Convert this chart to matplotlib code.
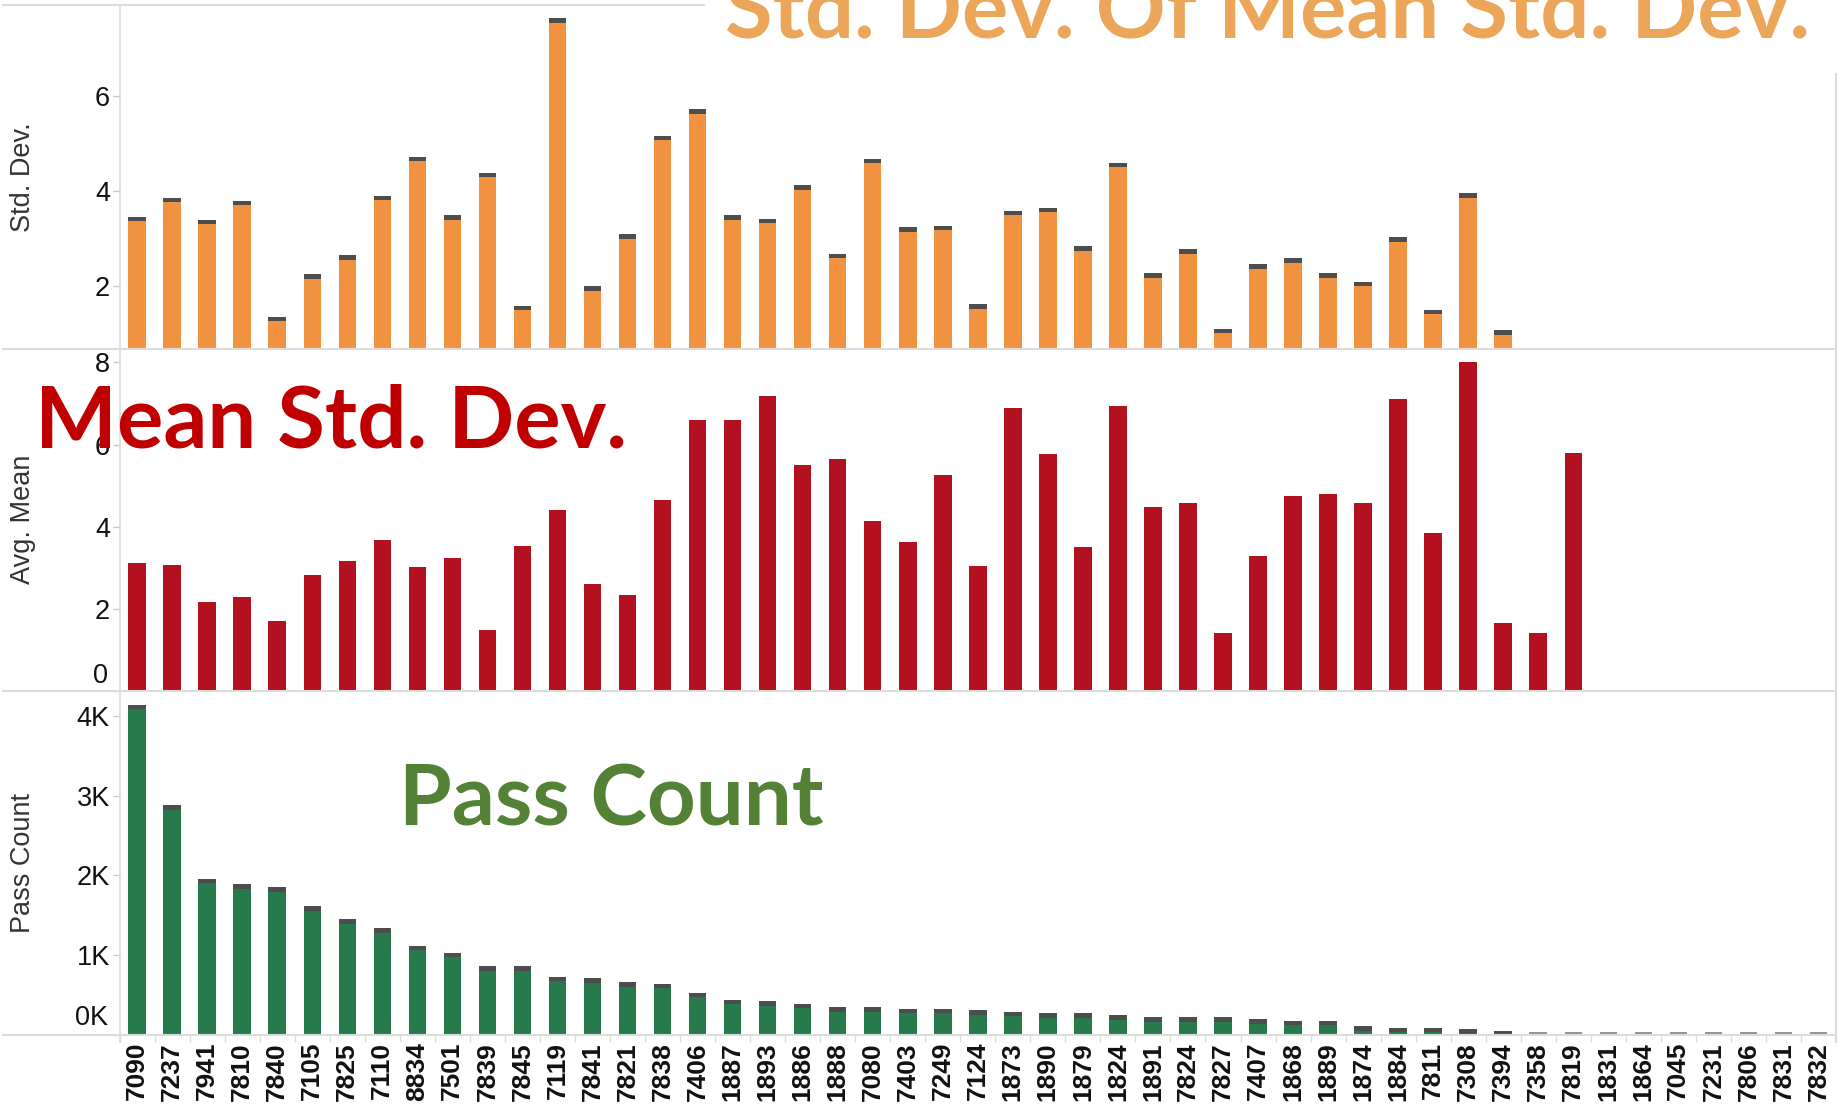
import numpy as np
import matplotlib
matplotlib.use("Agg")
import matplotlib.pyplot as plt
from matplotlib.lines import Line2D
from matplotlib.patches import Rectangle
import matplotlib.transforms as mtransforms

plt.rcParams['font.family'] = ['Liberation Sans', 'DejaVu Sans']

# ---------------- data ----------------
categories = ['7090', '7237', '7941', '7810', '7840', '7105', '7825', '7110', '8834', '7501',
              '7839', '7845', '7119', '7841', '7821', '7838', '7406', '1887', '1893', '1886',
              '1888', '7080', '7403', '7249', '7124', '1873', '1890', '1879', '1824', '1891',
              '7824', '7827', '7407', '1868', '1889', '1874', '1884', '7811', '7308', '7394',
              '7358', '7819', '1831', '1864', '7045', '7231', '7806', '7831', '7832']

nan = np.nan
std_dev = [3.46, 3.86, 3.39, 3.79, 1.35, 2.24, 2.65, 3.90, 4.72, 3.49,
           4.38, 1.58, 7.64, 1.99, 3.09, 5.16, 5.72, 3.49, 3.42, 4.12,
           2.68, 4.68, 3.24, 3.27, 1.61, 3.58, 3.65, 2.83, 4.60, 2.27,
           2.77, 1.10, 2.46, 2.58, 2.27, 2.09, 3.02, 1.50, 3.95, 1.06,
           nan, nan, nan, nan, nan, nan, nan, nan, nan]

avg_mean = [3.12, 3.07, 2.17, 2.30, 1.70, 2.82, 3.17, 3.68, 3.03, 3.24,
            1.49, 3.54, 4.40, 2.60, 2.34, 4.66, 6.59, 6.59, 7.18, 5.51,
            5.64, 4.14, 3.64, 5.26, 3.04, 6.88, 5.78, 3.51, 6.93, 4.49,
            4.57, 1.41, 3.29, 4.75, 4.79, 4.57, 7.10, 3.85, 8.00, 1.66,
            1.41, 5.80, nan, nan, nan, nan, nan, nan, nan]

pass_count = [4140, 2880, 1960, 1890, 1850, 1610, 1450, 1340, 1120, 1030,
              860, 860, 730, 710, 660, 640, 530, 440, 420, 390,
              350, 350, 330, 330, 310, 290, 270, 270, 250, 220,
              220, 220, 200, 180, 180, 110, 90, 90, 70, 46,
              1, 1, 1, 1, 1, 1, 1, 1, 1]

std_ticks = [2, 4, 6]
mean_ticks = [0, 2, 4, 6, 8]
count_ticks = [0, 1000, 2000, 3000, 4000]

titles = ['Std. Dev.', 'Avg. Mean', 'Pass Count']
overlay_top = 'Std. Dev. Of Mean Std. Dev.'
overlay_mid = 'Mean Std. Dev.'
overlay_bot = 'Pass Count'

# ---------------- style ----------------
W, H = 1839, 1104
ORANGE = '#F0923F'
RED = '#B31020'
GREEN = '#277A4C'
CAP = '#4d4d4d'
CAP_LIGHT = '#939393'
GRID = '#dcdcdc'
CAP_PX = 4.5
MIN_PX = 2.6

fig = plt.figure(figsize=(W / 100, H / 100), dpi=100)


def box(L, T, R, B):
    return [L / W, 1 - B / H, (R - L) / W, (B - T) / H]


AX_L, AX_R = 119.6, 1836
ax1 = fig.add_axes(box(AX_L, 5, AX_R, 348.5))
ax2 = fig.add_axes(box(AX_L, 348.5, AX_R, 691))
ax3 = fig.add_axes(box(AX_L, 691, AX_R, 1035))

x = np.arange(len(categories))


def draw_bars(ax, vals, color, ylim, cap=True):
    ax.set_xlim(-0.5, len(categories) - 0.5)
    ax.set_ylim(*ylim)
    h_px = ax.get_position().height * H
    per_px = (ylim[1] - ylim[0]) / h_px
    v = np.asarray(vals, float)
    ok = ~np.isnan(v)
    ax.bar(x[ok], v[ok], width=0.5, color=color, linewidth=0, zorder=2)
    if cap:
        c = CAP_PX * per_px
        m = MIN_PX * per_px
        dark = ok & (v >= m)
        light = ok & (v < m)
        bottoms = np.maximum(v[dark] - c, 0)
        ax.bar(x[dark], v[dark] - bottoms, bottom=bottoms, width=0.5,
               color=CAP, linewidth=0, zorder=3)
        ax.bar(x[light], np.full(light.sum(), m), bottom=0, width=0.5,
               color=CAP_LIGHT, linewidth=0, zorder=3)
    for s in ax.spines.values():
        s.set_visible(False)
    ax.tick_params(axis='y', length=5, width=1, color='#c8c8c8', pad=2,
                   labelsize=19.5, labelcolor='#111111')
    ax.set_facecolor('none')


draw_bars(ax1, std_dev, ORANGE, (0.68, 7.92))
draw_bars(ax2, avg_mean, RED, (0, 8.34), cap=False)
draw_bars(ax3, pass_count, GREEN, (0, 4310))

ax1.set_yticks(std_ticks)
ax1.set_yticklabels([str(t) for t in std_ticks])
ax2.set_yticks(mean_ticks)
ax2.set_yticklabels(['' if t == 0 else str(t) for t in mean_ticks])
ax3.set_yticks(count_ticks)
ax3.set_yticklabels(['' if t == 0 else f'{t // 1000}K' for t in count_ticks])

# shifted zero labels (kept inside pane like Tableau)
for ax, lab, dy in [(ax2, '0', 11), (ax3, '0K', 12)]:
    tr = mtransforms.blended_transform_factory(ax.transAxes, ax.transData)
    ax.annotate(lab, xy=(0, 0), xycoords=tr, xytext=(-8, dy), textcoords='offset points',
                ha='right', va='center', fontsize=19.5, color='#111111')

for ax in (ax1, ax2):
    ax.tick_params(axis='x', which='both', bottom=False, labelbottom=False)

ax3.set_xticks(x)
ax3.set_xticklabels(categories, rotation=90, fontsize=19, fontweight='bold', color='#111111')
ax3.tick_params(axis='x', which='major', length=0, pad=5)
ax3.set_xticks(np.arange(len(categories) + 1) - 0.5, minor=True)
ax3.tick_params(axis='x', which='minor', length=5, width=1, color=GRID)

# axis titles
for ax, t in zip((ax1, ax2, ax3), titles):
    p = ax.get_position()
    fig.text(23.5 / W, p.y0 + p.height / 2, t, rotation=90, ha='center', va='center',
             fontsize=19.5, color='#333333')

# panel lines
def hline(y, x0=3, x1=AX_R, lw=1.5):
    fig.add_artist(Line2D([x0 / W, x1 / W], [1 - y / H, 1 - y / H], transform=fig.transFigure,
                          color=GRID, lw=lw, zorder=2))


def vline(xp, y0, y1, lw=1.2):
    fig.add_artist(Line2D([xp / W, xp / W], [1 - y0 / H, 1 - y1 / H], transform=fig.transFigure,
                          color=GRID, lw=lw, zorder=2))


for y in (5, 348.5, 691, 1035):
    hline(y)
vline(AX_L, 5, 1042)
vline(AX_R, 73, 1042, lw=1.5)

# white box behind the top overlay title
fig.add_artist(Rectangle((705 / W, 1 - 73 / H), (W - 705) / W, 73 / H, transform=fig.transFigure,
                         facecolor='white', edgecolor='none', zorder=3))

# overlay annotations fitted to width
fig.canvas.draw()
renderer = fig.canvas.get_renderer()


def fit_text(s, left, right, baseline, color):
    t = fig.text(left / W, 1 - baseline / H, s, fontsize=60, family=['Lato', 'DejaVu Sans'],
                 fontweight='bold', color=color, ha='left', va='baseline', zorder=4)
    w = t.get_window_extent(renderer).width
    t.set_fontsize(60 * (right - left) / w)
    return t


fit_text(overlay_top, 725, 1810, 37, '#ECA65A')
fit_text(overlay_mid, 35, 627, 448, '#C00000')
fit_text(overlay_bot, 399, 823, 825, '#538135')

fig.savefig('out.png', dpi=100)
